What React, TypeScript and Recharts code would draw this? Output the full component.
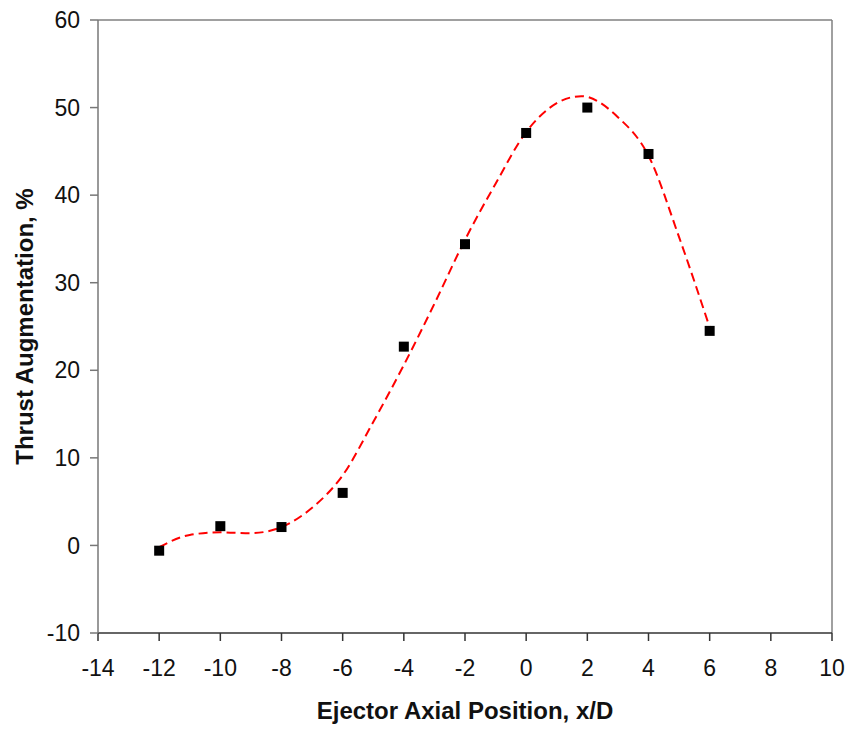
import React from "react";
import {
  ComposedChart,
  Line,
  ReferenceLine,
  Scatter,
  XAxis,
  YAxis,
} from "recharts";

// measured thrust augmentation at each ejector position
const positions = [-12, -10, -8, -6, -4, -2, 0, 2, 4, 6];
const augmentation = [-0.6, 2.2, 2.1, 6.0, 22.7, 34.4, 47.1, 50.0, 44.7, 24.5];

// dashed trend curve, sampled along its path
const trendX = [-12, -11, -10, -9, -8, -7, -6, -5, -4, -3, -2, -1, 0, 1, 1.8, 3, 4, 5, 6];
const trendY = [-0.2, 1.2, 1.5, 1.4, 2.1, 4.3, 8.0, 14.1, 20.6, 27.6, 34.9, 41.3, 47.2, 50.5, 51.3, 48.9, 44.5, 35.2, 24.9];

const xTicks = [-14, -12, -10, -8, -6, -4, -2, 0, 2, 4, 6, 8, 10];
const yTicks = [-10, 0, 10, 20, 30, 40, 50, 60];

const points = positions.map((x, i) => ({ x, y: augmentation[i] }));
const trend = trendX.map((x, i) => ({ x, y: trendY[i] }));

const FONT = "'Liberation Sans', Arial, sans-serif";
const tickStyle = { fontSize: 23, fontFamily: FONT, fill: "#111" };
const titleStyle = { fontSize: 24, fontWeight: "bold", fontFamily: FONT, fill: "#111" };

const Square = (props: any) => {
  const { cx, cy } = props;
  if (cx == null || cy == null) return null;
  return <rect x={cx - 5} y={cy - 5} width={10} height={10} fill="#000" />;
};

// vertical axis title, baseline sits just left of the tick labels
const YTitle = (props: any) => {
  const { viewBox } = props;
  const x = viewBox.x - 5;
  const y = viewBox.y + viewBox.height / 2;
  return (
    <text x={x} y={y} transform={`rotate(-90, ${x}, ${y})`} textAnchor="middle" style={titleStyle}>
      Thrust Augmentation, %
    </text>
  );
};

export default function App() {
  return (
    <div style={{ position: "absolute", left: 0, top: 0, width: 852, height: 730, background: "#fff" }}>
      <ComposedChart width={852} height={730} margin={{ top: 20, right: 20, bottom: 37, left: 38 }}>
        <XAxis
          type="number"
          dataKey="x"
          domain={[-14, 10]}
          ticks={xTicks}
          interval={0}
          allowDataOverflow
          height={60}
          tick={tickStyle}
          tickSize={8}
          tickMargin={19}
          stroke="#333"
          axisLine={{ stroke: "#333", strokeWidth: 1.5 }}
          tickLine={{ stroke: "#333", strokeWidth: 1.5 }}
          label={{
            value: "Ejector Axial Position, x/D",
            position: "insideBottom",
            offset: -26,
            style: titleStyle,
          }}
        />
        <YAxis
          type="number"
          dataKey="y"
          domain={[-10, 60]}
          ticks={yTicks}
          interval={0}
          allowDataOverflow
          width={60}
          tick={tickStyle}
          tickSize={8}
          tickMargin={10}
          axisLine={{ stroke: "#777", strokeWidth: 1.5 }}
          tickLine={{ stroke: "#777", strokeWidth: 1.5 }}
          label={<YTitle />}
        />
        <ReferenceLine y={60} stroke="#808080" strokeWidth={1.5} ifOverflow="extendDomain" />
        <ReferenceLine x={10} stroke="#808080" strokeWidth={1.5} ifOverflow="extendDomain" />
        <Scatter data={points} dataKey="y" shape={<Square />} isAnimationActive={false} />
        <Line
          data={trend}
          dataKey="y"
          type="monotone"
          stroke="#ff0000"
          strokeWidth={2}
          strokeDasharray="9 5"
          dot={false}
          activeDot={false}
          isAnimationActive={false}
        />
      </ComposedChart>
    </div>
  );
}
